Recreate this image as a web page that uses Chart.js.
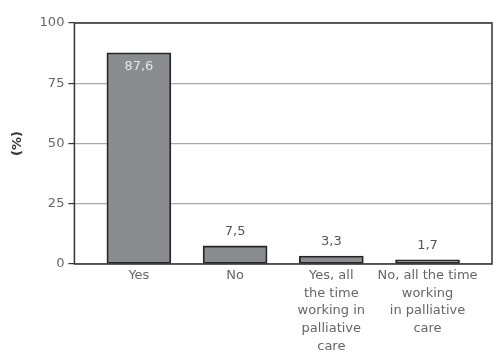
<!DOCTYPE html>
<html>
<head>
<meta charset="utf-8">
<script src="https://cdn.jsdelivr.net/npm/chart.js"></script>
<style>
  html, body { margin: 0; padding: 0; background: #fff; }
  #wrap { width: 493px; height: 354px; }
</style>
</head>
<body>
<div id="wrap"><canvas id="chart"></canvas></div>
<script>
// Données du graphique
const categories = [
    ['Yes'],
    ['No'],
    ['Yes, all', 'the time', 'working in', 'palliative', 'care'],
    ['No, all the time', 'working', 'in palliative', 'care']
];
const percentages = [87.6, 7.5, 3.3, 1.7];
const yTicks = [0, 25, 50, 75, 100];

const FONT = "'DejaVu Sans', sans-serif";

// Cadre autour de la zone du graphique
const framePlugin = {
    id: 'frame',
    afterDraw(chart) {
        const { ctx, chartArea: a } = chart;
        ctx.save();
        ctx.strokeStyle = '#333';
        ctx.lineWidth = 1.5;
        ctx.strokeRect(a.left, a.top, a.right - a.left, a.bottom - a.top);
        ctx.restore();
    }
};

// Étiquettes de valeurs (virgule décimale)
const valueLabels = {
    id: 'valueLabels',
    afterDatasetsDraw(chart) {
        const { ctx } = chart;
        const meta = chart.getDatasetMeta(0);
        ctx.save();
        ctx.font = '13px ' + FONT;
        ctx.textAlign = 'center';
        ctx.textBaseline = 'middle';
        meta.data.forEach((bar, i) => {
            const txt = percentages[i].toFixed(1).replace('.', ',');
            if (percentages[i] > 50) {
                ctx.fillStyle = '#e4e4e4';
                ctx.fillText(txt, bar.x, bar.y + 14);
            } else {
                ctx.fillStyle = '#555';
                ctx.fillText(txt, bar.x, bar.y - 14);
            }
        });
        ctx.restore();
    }
};

new Chart(document.getElementById('chart'), {
    type: 'bar',
    data: {
        datasets: [{
            data: percentages.map((v, i) => ({ x: i, y: v })),
            backgroundColor: '#8b8c8f',
            borderColor: '#262626',
            borderWidth: 1.8,
            borderSkipped: false,
            barThickness: 64
        }]
    },
    options: {
        responsive: true,
        maintainAspectRatio: false,
        animation: false,
        layout: { padding: { top: 23, right: 1, left: 10, bottom: -4 } },
        plugins: {
            legend: { display: false },
            tooltip: { enabled: false }
        },
        scales: {
            x: {
                type: 'linear',
                offset: false,
                min: -0.67,
                max: 3.67,
                afterBuildTicks(axis) {
                    axis.ticks = categories.map((c, i) => ({ value: i }));
                },
                grid: { display: false, drawTicks: false },
                border: { display: false },
                ticks: {
                    autoSkip: false,
                    maxRotation: 0,
                    padding: 3,
                    color: '#666',
                    font: { family: FONT, size: 13, lineHeight: '17.6px' },
                    callback: (v) => categories[v]
                }
            },
            y: {
                min: 0,
                max: 100,
                afterBuildTicks(axis) {
                    axis.ticks = yTicks.map(v => ({ value: v }));
                },
                grid: {
                    color: '#aaa',
                    lineWidth: 1.2,
                    tickColor: '#333',
                    tickLength: 6
                },
                border: { display: false },
                ticks: {
                    padding: 4,
                    color: '#666',
                    font: { family: FONT, size: 13 }
                },
                title: {
                    display: true,
                    text: '(%)',
                    color: '#333',
                    font: { family: FONT, size: 13, weight: 'bold' },
                    padding: { top: 0, bottom: 10 }
                }
            }
        }
    },
    plugins: [framePlugin, valueLabels]
});
</script>
</body>
</html>
